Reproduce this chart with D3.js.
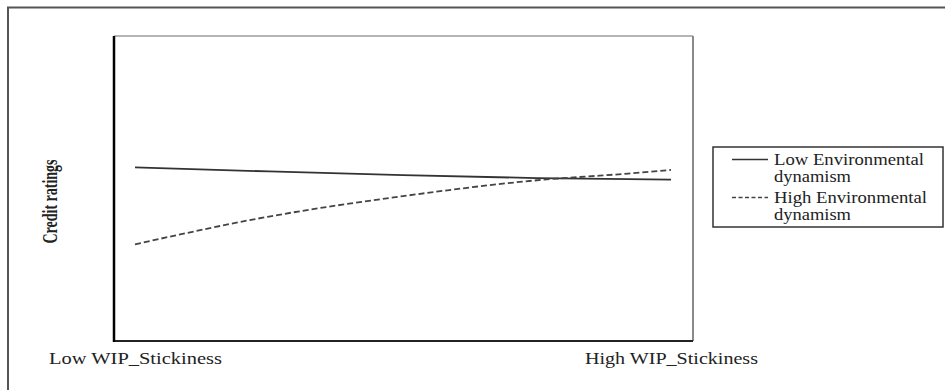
<!DOCTYPE html>
<html>
<head>
<meta charset="utf-8">
<script src="https://cdn.jsdelivr.net/npm/d3@7"></script>
<style>
  html, body { margin: 0; padding: 0; background: #fff; }
  svg { display: block; }
  svg text { font-family: "Times New Roman", "Liberation Serif", "DejaVu Serif", serif !important; fill: #222; }
</style>
</head>
<body>
<svg id="chart" width="945" height="390"></svg>
<script>
// Moderation plot: credit ratings across WIP stickiness, by environmental dynamism
const xPositions = [0, 0.25, 0.5, 0.75, 0.92, 1];
const lowDynamism = [0.569, 0.556, 0.544, 0.534, 0.531, 0.529];
const highDynamism = [0.317, 0.408, 0.475, 0.527, 0.549, 0.561];
const xTickValues = [0, 1];
const xTickLabels = ["Low WIP_Stickiness", "High WIP_Stickiness"];
const seriesNames = ["Low Environmental\ndynamism", "High Environmental\ndynamism"];
const yTitle = "Credit ratings";

const svg = d3.select("#chart");

// plot frame
const frame = { left: 114, top: 36, right: 693, bottom: 341 };

const x = d3.scaleLinear().domain([0, 1]).range([135, 671]);
const y = d3.scaleLinear().domain([0, 1]).range([frame.bottom, frame.top]);

// outer figure border (runs off the page on the right and bottom)
svg.append("path")
  .attr("d", `M8,400 L8,7.5 L950,7.5`)
  .attr("fill", "none").attr("stroke", "#555").attr("stroke-width", 2);

// plot box: dark left/bottom, light top/right
svg.append("line").attr("x1", frame.left).attr("x2", frame.right)
  .attr("y1", frame.top).attr("y2", frame.top)
  .attr("stroke", "#b5b5b5").attr("stroke-width", 2);
svg.append("line").attr("x1", frame.right).attr("x2", frame.right)
  .attr("y1", frame.top).attr("y2", frame.bottom)
  .attr("stroke", "#8a8a8a").attr("stroke-width", 2);
svg.append("line").attr("x1", frame.left).attr("x2", frame.right)
  .attr("y1", frame.bottom).attr("y2", frame.bottom)
  .attr("stroke", "#222").attr("stroke-width", 2);
svg.append("line").attr("x1", frame.left).attr("x2", frame.left)
  .attr("y1", frame.top).attr("y2", frame.bottom + 1)
  .attr("stroke", "#000").attr("stroke-width", 2.5);

// x labels centred under each end of the lines
const xAxis = d3.axisBottom(x)
  .tickValues(xTickValues)
  .tickSize(0)
  .tickFormat((d, i) => xTickLabels[i]);
const gx = svg.append("g")
  .attr("transform", `translate(0,${frame.bottom})`)
  .call(xAxis);
gx.attr("font-family", null);
gx.select(".domain").remove();
gx.selectAll("text")
  .attr("y", 23)
  .attr("dy", 0)
  .attr("font-size", 17.5)
  .attr("fill", "#2a2a2a")
  .attr("textLength", 173)
  .attr("lengthAdjust", "spacingAndGlyphs");

// y title
svg.append("text")
  .attr("transform", `translate(57,${(frame.top + frame.bottom) / 2 + 13}) rotate(-90)`)
  .attr("text-anchor", "middle")
  .attr("font-size", 22)
  .attr("font-weight", "bold")
  .attr("textLength", 84)
  .attr("lengthAdjust", "spacingAndGlyphs")
  .text(yTitle);

// series lines
const lineGen = d3.line()
  .x((d, i) => x(xPositions[i]))
  .y(d => y(d));
const curveGen = d3.line()
  .x((d, i) => x(xPositions[i]))
  .y(d => y(d))
  .curve(d3.curveMonotoneX);

svg.append("path")
  .datum(lowDynamism)
  .attr("d", lineGen)
  .attr("fill", "none").attr("stroke", "#333").attr("stroke-width", 1.8);

svg.append("path")
  .datum(highDynamism)
  .attr("d", curveGen)
  .attr("fill", "none").attr("stroke", "#444").attr("stroke-width", 1.8)
  .attr("stroke-dasharray", "6,3");

// legend
const legend = svg.append("g");
legend.append("rect")
  .attr("x", 713).attr("y", 147).attr("width", 230).attr("height", 80)
  .attr("fill", "#fff").attr("stroke", "#333").attr("stroke-width", 1.5);

const legendStyles = [
  { dash: null, stroke: "#333" },
  { dash: "4,2.5", stroke: "#444" }
];
seriesNames.forEach((name, i) => {
  const top = 165 + i * 38;
  legend.append("line")
    .attr("x1", 732).attr("x2", 768)
    .attr("y1", top - 5.5).attr("y2", top - 5.5)
    .attr("stroke", legendStyles[i].stroke).attr("stroke-width", 1.4)
    .attr("stroke-dasharray", legendStyles[i].dash);
  const lines = name.split("\n");
  lines.forEach((ln, j) => {
    const t = legend.append("text")
      .attr("x", 774).attr("y", top + j * 16.5)
      .attr("font-size", 16)
      .text(ln);
    t.attr("textLength", j === 0 ? (i === 0 ? 150 : 153) : 77)
     .attr("lengthAdjust", "spacingAndGlyphs");
  });
});
</script>
</body>
</html>
